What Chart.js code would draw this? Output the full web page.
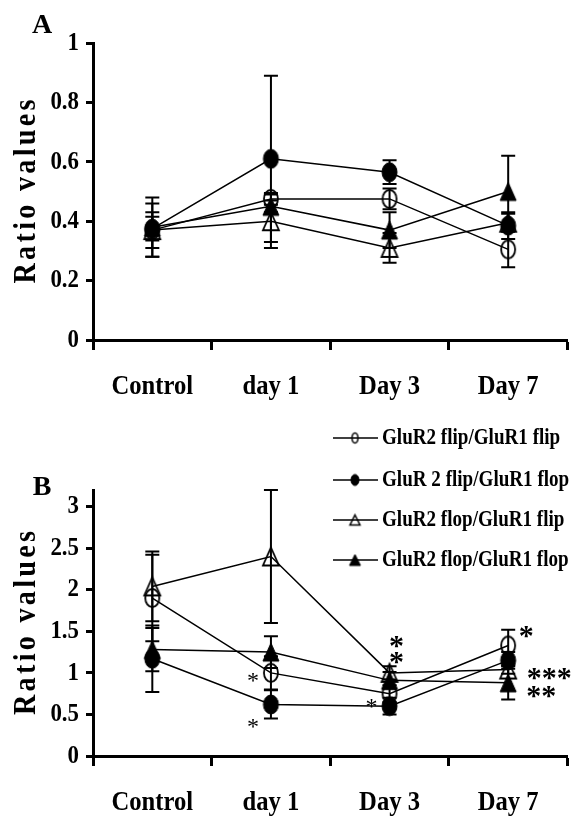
<!DOCTYPE html>
<html><head><meta charset="utf-8">
<script src="https://cdn.jsdelivr.net/npm/chart.js@4/dist/chart.umd.min.js"></script>
<style>
html,body{margin:0;padding:0;background:#fff;}
#wrap{position:relative;width:578px;height:816px;overflow:hidden;}
.pane{position:absolute;left:0;width:578px;}
</style></head><body>
<div id="wrap">
<div class="pane" style="top:0;height:400px"><canvas id="ca" width="578" height="400"></canvas></div>
<div class="pane" style="top:400px;height:416px"><canvas id="cb" width="578" height="416"></canvas></div>
</div>
<script>
// ---------- data ----------
const categories = ['Control', 'day 1', 'Day 3', 'Day 7'];
const seriesLabels = ['GluR2 flip/GluR1 flip', 'GluR 2 flip/GluR1 flop', 'GluR2 flop/GluR1 flip', 'GluR2 flop/GluR1 flop'];

// Panel A values and error (+/-)
const aFlipFlip = [0.37, 0.475, 0.475, 0.305];
const aFlipFlipErr = [0.09, 0.02, 0.035, 0.06];
const aFlipFlop = [0.375, 0.61, 0.565, 0.385];
const aFlipFlopErr = [0.04, 0.28, 0.04, 0.045];
const aFlopFlip = [0.37, 0.40, 0.31, 0.395];
const aFlopFlipErr = [0.06, 0.09, 0.05, 0.03];
const aFlopFlop = [0.38, 0.45, 0.37, 0.50];
const aFlopFlopErr = [0.10, 0.02, 0.06, 0.12];

// Panel B values and error (+/-)
const bFlipFlip = [1.9, 1.0, 0.75, 1.33];
const bFlipFlipErr = [0.52, 0.2, 0.1, 0.19];
const bFlipFlop = [1.17, 0.62, 0.6, 1.15];
const bFlipFlopErr = [0.4, 0.17, 0.1, 0.1];
const bFlopFlip = [2.04, 2.4, 1.0, 1.04];
const bFlopFlipErr = [0.42, 0.8, 0.08, 0.05];
const bFlopFlop = [1.28, 1.25, 0.91, 0.88];
const bFlopFlopErr = [0.26, 0.19, 0.1, 0.2];

// axis ranges / tick steps
const aYMax = 1, aYStep = 0.2;
const bYMax = 3.2, bYStep = 0.5, bYLastTick = 3;

// significance marks in panel B: category index, value, text
const bNoteCat = [1, 1, 2, 2, 2, 3, 3, 3];
const bNoteVal = [0.95, 0.40, 0.64, 1.39, 1.19, 1.51, 1.0, 0.78];
const bNoteText = ['*', '*', '*', '*', '*', '*', '***', '**'];

// ---------- styles ----------
const noteStyle = [
  {dx: -18, bold: false}, {dx: -18, bold: false}, {dx: -18, bold: false},
  {dx: 7, bold: true}, {dx: 7, bold: true}, {dx: 18, bold: true},
  {dx: 41, bold: true}, {dx: 33, bold: true}
];
const SERIF = '"Liberation Serif", "Times New Roman", serif';
const SX = 0.88;

function marker(shape, filled, w, h, lw) {
  const c = document.createElement('canvas');
  c.width = Math.ceil(w + lw * 2 + 2); c.height = Math.ceil(h + lw * 2 + 2);
  const g = c.getContext('2d');
  g.translate(c.width / 2, c.height / 2);
  g.beginPath();
  if (shape === 'circle') g.ellipse(0, 0, w / 2, h / 2, 0, 0, Math.PI * 2);
  else { g.moveTo(0, -h / 2); g.lineTo(w / 2, h / 2); g.lineTo(-w / 2, h / 2); g.closePath(); }
  if (filled) { g.fillStyle = '#000'; g.fill(); }
  g.lineWidth = lw; g.strokeStyle = '#000'; g.stroke();
  return c;
}
const markers = [
  marker('circle', false, 14, 18, 1.8),
  marker('circle', true, 15, 19, 1),
  marker('tri', false, 16, 18, 1.8),
  marker('tri', true, 16, 18, 1)
];
const legendMarkers = [
  marker('circle', false, 6, 10, 1.5),
  marker('circle', true, 8, 11, 1),
  marker('tri', false, 10, 10, 1.5),
  marker('tri', true, 11, 11, 1)
];

function fmt(v) { return String(Math.round(v * 100) / 100); }

function drawScaled(ctx, text, x, y, font, sx, align, baseline) {
  ctx.save();
  ctx.font = font; ctx.fillStyle = '#000';
  ctx.textAlign = align; ctx.textBaseline = baseline;
  ctx.translate(x, y); ctx.scale(sx, 1);
  ctx.fillText(text, 0, 0);
  ctx.restore();
}
function drawSpacedVertical(ctx, text, cx, cy, font, sx, totalLen, capH) {
  ctx.save();
  ctx.font = font; ctx.fillStyle = '#000';
  ctx.textAlign = 'left'; ctx.textBaseline = 'alphabetic';
  ctx.translate(cx, cy); ctx.rotate(-Math.PI / 2);
  const chars = [...text];
  const widths = chars.map(c => ctx.measureText(c).width * sx);
  const sum = widths.reduce((a, b) => a + b, 0);
  const gap = (totalLen - sum) / (chars.length - 1);
  let x = -totalLen / 2;
  chars.forEach((c, i) => {
    ctx.save(); ctx.translate(x, capH / 2); ctx.scale(sx, 1); ctx.fillText(c, 0, 0); ctx.restore();
    x += widths[i] + gap;
  });
  ctx.restore();
}

const errorBars = {
  id: 'errorBars',
  beforeDatasetsDraw(chart) {
    const ctx = chart.ctx, xs = chart.scales.x, ys = chart.scales.y;
    ctx.save();
    ctx.strokeStyle = '#000'; ctx.lineWidth = 2;
    chart.data.datasets.forEach(ds => {
      ds.data.forEach((v, i) => {
        const e = ds.errors[i];
        const x = xs.getPixelForValue(i);
        const yt = ys.getPixelForValue(v + e), yb = ys.getPixelForValue(v - e);
        ctx.beginPath();
        ctx.moveTo(x, yt); ctx.lineTo(x, yb);
        ctx.moveTo(x - 7, yt); ctx.lineTo(x + 7, yt);
        ctx.moveTo(x - 7, yb); ctx.lineTo(x + 7, yb);
        ctx.stroke();
      });
    });
    ctx.restore();
  }
};

const panelText = {
  id: 'panelText',
  afterDraw(chart, args, opts) {
    const ctx = chart.ctx, xs = chart.scales.x, ys = chart.scales.y, ca = chart.chartArea;
    ys.ticks.forEach(t => drawScaled(ctx, fmt(t.value), ys.right - 14, ys.getPixelForValue(t.value), 'bold 26px ' + SERIF, SX, 'right', 'middle'));
    categories.forEach((c, i) => drawScaled(ctx, c, xs.getPixelForValue(i), ca.bottom + 47, 'bold 28px ' + SERIF, SX, 'center', 'middle'));
    drawScaled(ctx, opts.letter, 42, opts.letterY, 'bold 28px ' + SERIF, 1, 'center', 'alphabetic');
    drawSpacedVertical(ctx, 'Ratio values', 24, (ca.top + ca.bottom) / 2, 'bold 32px ' + SERIF, SX, 184, 21);
    if (opts.legend) {
      seriesLabels.forEach((lab, i) => {
        const y = opts.legendY[i];
        ctx.save(); ctx.strokeStyle = '#000'; ctx.lineWidth = 1.5;
        ctx.beginPath(); ctx.moveTo(333, y); ctx.lineTo(378, y); ctx.stroke(); ctx.restore();
        const m = legendMarkers[i];
        ctx.drawImage(m, 355 - m.width / 2, y - m.height / 2);
        drawScaled(ctx, lab, 382, y, 'bold 23px ' + SERIF, 0.83, 'left', 'middle');
      });
    }
    if (opts.notes) {
      bNoteText.forEach((t, i) => {
        const st = noteStyle[i];
        const fs = st.bold ? 30 : 24;
        const x = xs.getPixelForValue(bNoteCat[i]) + st.dx;
        const y = ys.getPixelForValue(bNoteVal[i]) + fs * 0.47;
        drawScaled(ctx, t, x, y, (st.bold ? 'bold ' : '') + fs + 'px ' + SERIF, 1, 'center', 'alphabetic');
      });
    }
  }
};

function makeDatasets(vals, errs) {
  return vals.map((v, i) => ({
    label: seriesLabels[i], data: v, errors: errs[i],
    borderColor: '#000', borderWidth: 1.5, tension: 0,
    pointStyle: markers[i], pointRadius: 9, pointHoverRadius: 9,
    backgroundColor: '#000', fill: false
  }));
}

function makeChart(id, vals, errs, yMax, yStep, lastTick, padTop, textOpts) {
  return new Chart(document.getElementById(id), {
    type: 'line',
    data: { labels: categories, datasets: makeDatasets(vals, errs) },
    options: {
      responsive: false, animation: false, devicePixelRatio: 1,
      layout: { padding: { top: padTop, left: 0, right: 3, bottom: 0 } },
      plugins: { legend: { display: false }, tooltip: { enabled: false }, panelText: textOpts },
      scales: {
        x: {
          type: 'category', offset: true,
          grid: { offset: true, drawOnChartArea: false, drawTicks: true, tickLength: 10, tickWidth: 3, tickColor: '#000' },
          border: { display: true, color: '#000', width: 3 },
          ticks: { display: false },
          afterFit(s) { s.height = 60; }
        },
        y: {
          min: 0, max: yMax,
          ticks: { display: false, stepSize: yStep },
          afterBuildTicks(s) { s.ticks = s.ticks.filter(t => t.value <= lastTick + 1e-9); },
          grid: { drawOnChartArea: false, drawTicks: true, tickLength: 7, tickWidth: 3, tickColor: '#000' },
          border: { display: true, color: '#000', width: 3 },
          afterFit(s) { s.width = 93; }
        }
      }
    },
    plugins: [errorBars, panelText]
  });
}

makeChart('ca',
  [aFlipFlip, aFlipFlop, aFlopFlip, aFlopFlop],
  [aFlipFlipErr, aFlipFlopErr, aFlopFlipErr, aFlopFlopErr],
  aYMax, aYStep, aYMax, 43,
  { letter: 'A', letterY: 33, legend: false, notes: false });

makeChart('cb',
  [bFlipFlip, bFlipFlop, bFlopFlip, bFlopFlop],
  [bFlipFlipErr, bFlipFlopErr, bFlopFlipErr, bFlopFlopErr],
  bYMax, bYStep, bYLastTick, 90,
  { letter: 'B', letterY: 95, legend: true, legendY: [38, 80, 120, 160], notes: true });
</script>
</body></html>
